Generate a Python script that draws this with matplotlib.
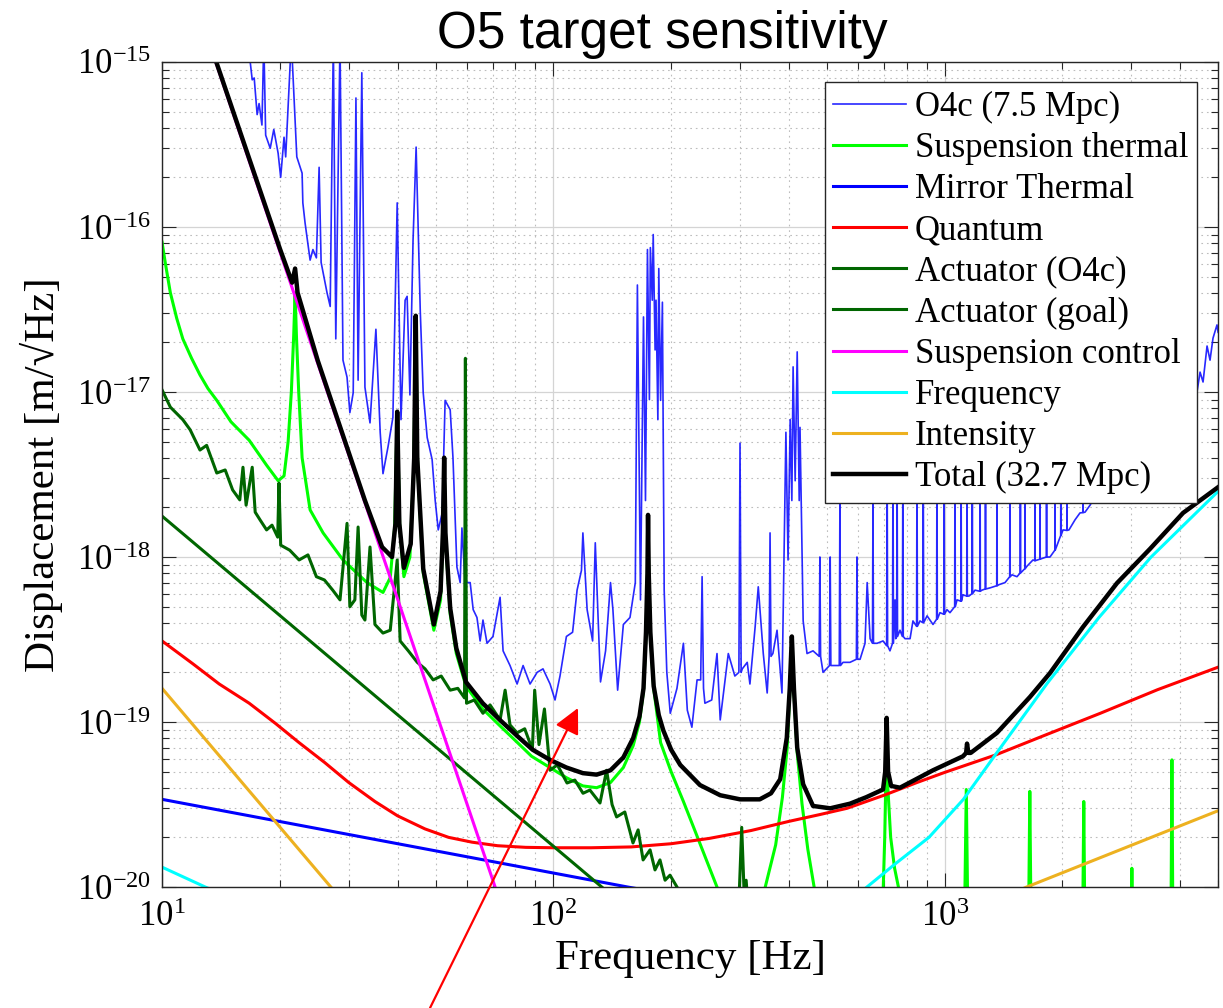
import numpy as np
import matplotlib
matplotlib.use("Agg")
import matplotlib.pyplot as plt
from matplotlib.ticker import LogLocator, LogFormatterMathtext, NullFormatter

plt.rcParams['font.family'] = ['Liberation Serif', 'DejaVu Serif']
plt.rcParams['mathtext.fontset'] = 'custom'
plt.rcParams['mathtext.rm'] = 'Liberation Serif'
plt.rcParams['mathtext.default'] = 'regular'

# (frequency [Hz], displacement [m/rtHz])
o4c = [(16.5, 1.56e-15), (16.8, 1.0e-15), (17.0, 7.8e-16), (17.2, 8.0e-16), (17.5, 4.8e-16),
       (17.7, 5.6e-16), (18.0, 4.15e-16), (18.2, 1.36e-15), (18.4, 3.6e-16), (18.9, 3.0e-16),
       (19.3, 3.9e-16), (19.8, 2.8e-16), (20.1, 2.0e-16), (20.5, 3.5e-16), (20.7, 2.66e-16),
       (21.4, 1.36e-15), (22.1, 2.66e-16), (22.8, 2.12e-16), (22.9, 1.4e-16), (23.2, 1.06e-16),
       (23.9, 6.3e-17), (24.3, 7.3e-17), (24.8, 6.5e-17), (25.2, 2.3e-16), (25.5, 6.1e-17),
       (25.8, 5.3e-17), (26.4, 4.0e-17), (26.9, 3.3e-17), (27.4, 1.36e-15), (27.8, 2.1e-17),
       (28.5, 1.36e-15), (29.0, 1.56e-17), (29.7, 1.23e-17), (30.2, 7.5e-18), (30.8, 9.9e-18),
       (31.3, 6.05e-16), (31.7, 1.18e-17), (32.4, 8.6e-16), (33.0, 1.07e-17), (34.0, 6.5e-18),
       (35.2, 2.4e-17), (36.1, 5.7e-18), (36.7, 3.2e-18), (37.8, 4.65e-18), (38.9, 7.0e-18),
       (39.9, 1.4e-16), (40.8, 6.8e-18), (41.8, 3.6e-17), (42.3, 3.8e-17), (43.0, 9.6e-18),
       (43.8, 8.3e-17), (44.6, 3.05e-16), (45.7, 3.1e-17), (46.5, 9.9e-18), (47.6, 5.3e-18),
       (49.0, 3.9e-18), (49.9, 2.2e-18), (50.8, 1.46e-18), (52.0, 1.85e-18), (52.9, 8.9e-18),
       (54.5, 7.8e-18), (55.4, 4.0e-18), (56.7, 8.7e-19), (57.8, 7.0e-19), (58.4, 1.5e-18),
       (59.5, 7.0e-19), (61.3, 7.0e-19), (62.4, 4.8e-19), (63.8, 4.3e-19), (65.0, 3.1e-19),
       (66.1, 4.15e-19), (67.7, 3.0e-19), (70.1, 3.3e-19), (73.1, 5.7e-19), (74.4, 2.7e-19),
       (77.5, 2.2e-19), (80.8, 1.7e-19), (83.7, 2.2e-19), (87.2, 1.7e-19), (90.9, 2.0e-19),
       (94.1, 2.1e-19), (98.1, 1.7e-19), (101, 1.36e-19), (104, 1.9e-19), (108, 3.3e-19),
       (112, 3.5e-19), (115, 6.3e-19), (118, 8.3e-19), (119, 1.4e-18), (122, 4.8e-19),
       (126, 3.1e-19), (128, 1.22e-18), (132, 1.75e-19), (136, 2.7e-19), (140, 7.0e-19),
       (142, 4.8e-19), (146, 1.56e-19), (151, 3.9e-19), (157, 4.3e-19), (162, 7.0e-19),
       (164, 4.45e-17), (167, 5.5e-19), (170, 2.85e-17), (172, 2.2e-18), (174, 7.3e-17),
       (176, 9.0e-18), (177, 7.5e-17), (179, 3.6e-17), (180, 9.0e-17), (182, 1.8e-17),
       (183, 3.6e-17), (185, 6.8e-18), (186, 5.6e-17), (188, 8.9e-18), (190, 3.5e-17),
       (192, 6.3e-19), (195, 2.0e-19), (199, 1.13e-19), (207, 1.6e-19), (215, 3.0e-19),
       (220, 1.18e-19), (226, 9.3e-20), (233, 1.8e-19), (238, 1.8e-19), (240, 7.6e-19),
       (242, 1.6e-19), (244, 1.3e-19), (254, 1.36e-19), (262, 2.6e-19), (267, 1.03e-19),
       (280, 2.6e-19), (291, 1.9e-19), (298, 2.0e-19), (300, 4.9e-18), (302, 2.0e-19),
       (304, 2.1e-19), (313, 2.3e-19), (318, 1.7e-19), (328, 3.8e-19), (334, 6.6e-19),
       (344, 2.6e-19), (352, 1.5e-19), (356, 2.5e-19), (358, 1.4e-18), (360, 2.5e-19),
       (364, 2.6e-19), (373, 3.6e-19), (384, 1.5e-19), (393, 5.7e-18), (398, 9.6e-19),
       (403, 6.8e-18), (407, 2.2e-18), (410, 1.42e-17), (415, 2.9e-18), (420, 1.75e-17),
       (425, 2.2e-18), (427, 6.1e-18), (435, 4.1e-19), (445, 2.6e-19), (461, 2.7e-19),
       (478, 2.5e-19), (480, 1.0e-18), (482, 2.5e-19), (489, 2.0e-19), (508, 2.2e-19),
       (510, 1.0e-18), (512, 2.2e-19), (519, 2.2e-19), (538, 2.2e-19), (540, 2.1e-18),
       (542, 2.2e-19), (550, 2.3e-19), (573, 2.3e-19), (595, 2.4e-19), (597, 1.0e-18),
       (599, 2.4e-19), (608, 2.4e-19), (626, 3.0e-19), (634, 7.0e-19), (645, 3.2e-19),
       (654, 3.0e-19), (656, 2.1e-18), (658, 3.0e-19), (672, 3.0e-19), (696, 3.1e-19),
       (711, 2.9e-19), (713, 4.5e-18), (715, 2.9e-19), (725, 2.7e-19), (736, 3.0e-19),
       (738, 4.5e-18), (740, 3.0e-19), (747, 5.5e-19), (750, 3.2e-19), (754, 3.3e-19),
       (756, 4.0e-18), (758, 3.3e-19), (769, 3.6e-19), (780, 3.3e-19), (782, 3.0e-18),
       (784, 3.3e-19), (792, 3.2e-19), (816, 3.2e-19), (830, 4.1e-19), (848, 3.8e-19),
       (850, 4.5e-18), (852, 3.8e-19), (865, 4.1e-19), (880, 4.0e-19), (882, 3.5e-18),
       (884, 4.0e-19), (902, 4.4e-19), (934, 3.9e-19), (954, 4.2e-19), (956, 4.5e-18),
       (958, 4.2e-19), (973, 4.6e-19), (995, 4.5e-19), (997, 3.0e-18), (999, 4.5e-19),
       (1014, 4.8e-19), (1032, 4.6e-19), (1061, 5.0e-19), (1063, 4.5e-18), (1065, 5.0e-19),
       (1076, 5.5e-19), (1100, 5.4e-19), (1102, 3.0e-18), (1104, 5.4e-19), (1114, 5.9e-19),
       (1139, 5.8e-19), (1141, 4.5e-18), (1143, 5.8e-19), (1154, 5.8e-19), (1175, 6.0e-19),
       (1177, 3.2e-18), (1179, 6.0e-19), (1196, 6.3e-19), (1230, 6.2e-19), (1232, 4.5e-18),
       (1234, 6.2e-19), (1246, 6.3e-19), (1270, 6.4e-19), (1272, 3.0e-18), (1274, 6.4e-19),
       (1306, 6.5e-19), (1359, 6.7e-19), (1361, 4.5e-18), (1363, 6.7e-19), (1377, 6.8e-19),
       (1427, 7.0e-19), (1467, 7.6e-19), (1469, 4.5e-18), (1471, 7.6e-19), (1487, 7.8e-19),
       (1531, 7.6e-19), (1560, 8.0e-19), (1562, 3.5e-18), (1564, 8.0e-19), (1603, 8.5e-19),
       (1605, 4.5e-18), (1607, 8.5e-19), (1624, 8.8e-19), (1682, 9.6e-19), (1700, 9.5e-19),
       (1702, 3.0e-18), (1704, 9.5e-19), (1751, 9.7e-19), (1753, 4.5e-18), (1755, 9.7e-19),
       (1774, 9.8e-19), (1820, 1.0e-18), (1822, 3.5e-18), (1824, 1.0e-18), (1859, 1.0e-18),
       (1913, 1.1e-18), (1915, 4.5e-18), (1917, 1.1e-18), (1938, 1.18e-18), (1980, 1.35e-18),
       (1982, 4.0e-18), (1984, 1.35e-18), (2007, 1.46e-18), (2053, 1.45e-18), (2055, 4.5e-18),
       (2057, 1.45e-18), (2079, 1.46e-18), (2154, 1.68e-18), (2218, 1.85e-18), (2256, 1.86e-18),
       (2258, 4.5e-18), (2260, 1.86e-18), (2285, 1.87e-18), (2353, 2.06e-18), (2647, 3.3e-18),
       (3349, 5.1e-18), (4416, 1.0e-17), (4496, 1.32e-17), (4576, 1.15e-17), (4685, 1.9e-17),
       (4768, 1.56e-17), (4852, 2.12e-17), (4967, 2.55e-17), (5000, 2.3e-17)]

sus_thermal = [(10.0, 8.1e-17), (10.2, 6.0e-17), (10.5, 4.0e-17), (10.9, 2.8e-17), (11.3, 2.1e-17),
               (11.9, 1.6e-17), (12.5, 1.27e-17), (13.1, 1.05e-17), (13.8, 8.9e-18),
               (15.0, 6.6e-18), (16.7, 5.1e-18), (18.5, 3.6e-18), (19.8, 2.9e-18), (20.5, 3.1e-18),
               (21.0, 5.0e-18), (21.4, 1.0e-17), (21.7, 2.2e-17), (21.88, 4.0e-17), (22.05, 2.2e-17),
               (22.35, 1.0e-17), (22.8, 4.0e-18), (23.9, 1.93e-18), (25.8, 1.4e-18), (29.0, 9.6e-19),
               (33.4, 7.0e-19), (36.7, 6.1e-19), (38.3, 7.5e-19), (39.3, 1.5e-18), (39.9, 7.3e-18),
               (40.5, 1.5e-18), (41.5, 7.6e-19), (43.0, 1.0e-18), (44.0, 3.5e-18), (44.5, 2.8e-17),
               (45.0, 3.5e-18), (46.5, 8.0e-19), (49.5, 3.6e-19), (51.5, 5.5e-19), (52.2, 1.3e-18),
               (52.6, 3.9e-18), (53.0, 1.3e-18), (54.5, 4.5e-19), (56.5, 2.6e-19), (59.8, 1.65e-19),
               (66, 1.2e-19), (73, 9.5e-20), (81, 7.5e-20), (88, 6.2e-20), (98, 5.3e-20),
               (108, 4.6e-20), (119, 4.1e-20), (129, 4.0e-20), (140, 4.3e-20), (151, 5.3e-20),
               (160, 7.2e-20), (166, 1.0e-19), (170, 1.55e-19), (172.5, 3.4e-19), (174, 7.8e-19),
               (174.6, 1.75e-18), (175.3, 7.8e-19), (177, 3.4e-19), (180.5, 1.6e-19), (188, 7.5e-20),
               (200, 5.0e-20), (215, 3.3e-20), (230, 2.2e-20), (245, 1.5e-20), (262, 1.0e-20),
               (280, 7e-21), (330, 7e-21), (348, 1.0e-20), (370, 1.8e-20), (385, 3.5e-20),
               (396, 7e-20), (402, 1.5e-19), (407, 3.2e-19), (412, 1.5e-19), (420, 6.5e-20),
               (432, 3.2e-20), (447, 1.7e-20), (464, 1.0e-20), (490, 6e-21), (680, 6e-21),
               (697, 1.0e-20), (703, 2.0e-20), (707, 4.0e-20), (711, 1.0e-19), (716, 4.0e-20),
               (728, 2.0e-20), (745, 1.3e-20), (762, 1.0e-20), (780, 7e-21), (1125, 7e-21),
               (1136, 3.9e-20), (1146, 7e-21), (1640, 7e-21), (1651, 3.8e-20), (1662, 7e-21),
               (2255, 7e-21), (2268, 3.3e-20), (2281, 7e-21), (2995, 7e-21), (3010, 1.3e-20),
               (3025, 7e-21), (3790, 7e-21), (3810, 5.9e-20), (3830, 7e-21), (5000, 7e-21)]

mirror_thermal = [(10, 3.4e-20), (155, 1.0e-20), (200, 9.0e-21)]

quantum = [(10, 3.1e-19), (12, 2.25e-19), (14, 1.7e-19), (16.7, 1.3e-19), (19.5, 9.8e-20),
           (22.4, 7.5e-20), (26, 5.7e-20), (30, 4.3e-20), (35, 3.3e-20), (40, 2.7e-20),
           (47, 2.25e-20), (54, 2.0e-20), (62, 1.87e-20), (72, 1.78e-20), (85, 1.74e-20),
           (100, 1.73e-20), (125, 1.73e-20), (158, 1.75e-20), (200, 1.83e-20), (250, 1.97e-20),
           (320, 2.2e-20), (400, 2.5e-20), (480, 2.75e-20), (563, 3.0e-20), (700, 3.6e-20),
           (850, 4.3e-20), (1000, 4.95e-20), (1346, 6.3e-20), (1800, 8.3e-20), (2500, 1.13e-19),
           (3500, 1.57e-19), (5000, 2.15e-19)]

actuator_o4c = [(10.0, 1.03e-17), (10.5, 8.1e-18), (11.3, 6.8e-18), (11.8, 5.9e-18), (12.5, 4.45e-18),
                (13.0, 4.75e-18), (13.8, 3.23e-18), (14.5, 3.37e-18), (15.15, 2.55e-18), (15.8, 2.22e-18),
                (16.1, 3.5e-18), (16.4, 2.06e-18), (17.0, 3.5e-18), (17.3, 1.87e-18), (17.8, 1.68e-18),
                (18.5, 1.46e-18), (19.1, 1.56e-18), (19.75, 1.32e-18), (19.9, 2.81e-18), (20.1, 1.18e-18),
                (21.2, 1.10e-18), (22.4, 9.6e-19), (23.6, 1.03e-18), (24.8, 7.6e-19), (26.0, 7.26e-19),
                (27.3, 6.3e-19), (28.5, 5.5e-19), (29.7, 1.6e-18), (30.2, 5.0e-19), (31.1, 5.5e-19),
                (31.7, 1.52e-18), (32.4, 4.45e-19), (33.0, 4.15e-19), (34.0, 1.15e-18), (35.0, 3.9e-19),
                (36.7, 3.46e-19), (38.3, 3.6e-19), (39.9, 9.6e-19), (40.6, 3.1e-19), (42.6, 2.7e-19),
                (44.9, 2.3e-19), (47.0, 2.1e-19), (49.3, 1.8e-19), (51.7, 1.9e-19), (54.5, 1.56e-19),
                (57.0, 1.6e-19), (59.3, 1.4e-19), (59.6, 1.6e-17), (60.0, 1.3e-19), (62.8, 1.36e-19),
                (66.1, 1.13e-19), (68.9, 1.27e-19), (73.1, 1.03e-19), (75.3, 1.56e-19), (77.5, 9.6e-20),
                (80.8, 8.6e-20), (84.5, 9.1e-20), (88.4, 6.8e-20), (89.6, 1.56e-19), (91.9, 7.3e-20),
                (94.9, 1.2e-19), (98.1, 5.1e-20), (102.4, 5.5e-20), (108.4, 4.27e-20), (113.5, 4.45e-20),
                (119.1, 3.7e-20), (124.0, 3.87e-20), (131.6, 3.23e-20), (136.8, 5.1e-20), (141.3, 3.16e-20),
                (145.1, 2.66e-20), (152.3, 2.85e-20), (159.8, 1.85e-20), (164.7, 2.22e-20), (169.6, 1.46e-20),
                (176.7, 1.68e-20), (181.9, 1.27e-20), (187.3, 1.46e-20), (193.0, 1.10e-20), (198.7, 1.18e-20),
                (210.8, 9.3e-21), (220, 8.9e-21), (298, 8e-21), (303, 2.3e-20), (308, 8e-21),
                (311, 1.1e-20), (314, 8e-21), (330, 7e-21)]

actuator_goal = [(10, 1.77e-18), (133, 1.0e-20), (200, 4.4e-21)]

sus_control = [(12, 2.5e-15), (13.8, 9.6e-16), (16, 3.4e-16), (20, 7.1e-17), (25, 1.49e-17),
               (30, 4.17e-18), (36.5, 1.05e-18), (40, 5.56e-19), (47.3, 1.72e-19), (60, 3.25e-20),
               (71, 1.0e-20), (80, 4.4e-21)]

frequency = [(10, 1.32e-20), (12.9, 1.0e-20), (14, 9.2e-21), (600, 9.0e-21), (633, 1.0e-20),
             (753, 1.4e-20), (912, 2.0e-20), (1117, 3.4e-20), (1346, 6.3e-20), (1830, 1.72e-19),
             (2480, 4.3e-19), (3370, 1.0e-18), (5000, 2.5e-18)]

intensity = [(10, 1.6e-19), (27, 1.0e-20), (35, 4.9e-21), (1400, 8.6e-21), (1620, 1.0e-20),
             (5000, 2.9e-20)]

total = [(12, 2.6e-15), (13.8, 9.8e-16), (16, 3.5e-16), (20, 7.4e-17), (21.5, 4.6e-17),
         (21.88, 5.6e-17), (22.2, 4.0e-17), (25, 1.55e-17), (30, 4.3e-18), (33, 2.2e-18),
         (36.5, 1.15e-18), (38.7, 1.0e-18), (39.5, 1.6e-18), (39.9, 7.6e-18), (40.4, 1.6e-18),
         (41.5, 8.6e-19), (43.2, 1.2e-18), (44.1, 4.0e-18), (44.5, 2.9e-17), (44.9, 4.0e-18),
         (46.5, 8.5e-19), (49.5, 3.9e-19), (51.5, 6.2e-19), (52.2, 1.4e-18), (52.6, 4.0e-18),
         (53.0, 1.4e-18), (54.5, 4.9e-19), (56.5, 2.8e-19), (59.8, 1.75e-19), (66, 1.3e-19),
         (73, 1.03e-19), (81, 8.2e-20), (88.5, 6.8e-20), (98, 5.9e-20), (108, 5.3e-20),
         (119, 4.9e-20), (129, 4.8e-20), (140, 5.1e-20), (151, 6.1e-20), (160, 8.0e-20),
         (166, 1.08e-19), (170, 1.6e-19), (172.5, 3.5e-19), (174, 8.0e-19), (174.6, 1.8e-18),
         (175.3, 8.0e-19), (177, 3.5e-19), (180.5, 1.65e-19), (186, 1.1e-19), (191, 8.9e-20),
         (200, 6.8e-20), (211, 5.5e-20), (237, 4.15e-20), (267, 3.6e-20), (300, 3.4e-20),
         (337, 3.4e-20), (360, 3.7e-20), (380, 4.5e-20), (395, 8.0e-20), (402, 1.6e-19),
         (407, 3.3e-19), (412, 1.6e-19), (420, 7.0e-20), (435, 4.2e-20), (461, 3.1e-20),
         (510, 3.0e-20), (573, 3.2e-20), (630, 3.5e-20), (696, 3.9e-20), (705, 5.0e-20),
         (711, 1.06e-19), (717, 5.0e-20), (730, 4.1e-20), (769, 4.0e-20), (934, 5.1e-20),
         (1114, 6.2e-20), (1135, 6.5e-20), (1141, 7.4e-20), (1150, 6.5e-20), (1166, 6.5e-20),
         (1361, 8.6e-20), (1653, 1.42e-19), (1859, 1.98e-19), (2258, 3.77e-19), (2758, 6.95e-19),
         (3349, 1.12e-18), (4068, 1.85e-18), (5000, 2.65e-18)]

x_ticks = [10, 100, 1000]
y_ticks = [1e-20, 1e-19, 1e-18, 1e-17, 1e-16, 1e-15]


def xy(points):
    a = np.array(points, dtype=float)
    return a[:, 0], a[:, 1]


fig = plt.figure(figsize=(12.23, 10.08), dpi=100)
ax = fig.add_axes([0.1325, 0.1200, 0.8635, 0.8185])

ax.loglog(*xy(o4c), color='#1010ff', lw=1.2, alpha=0.9, label='O4c (7.5 Mpc)')
ax.loglog(*xy(sus_thermal), color='#00ff00', lw=2.2, label='Suspension thermal')
ax.loglog(*xy(mirror_thermal), color='#0000ff', lw=2.2, label='Mirror Thermal')
ax.loglog(*xy(quantum), color='#ff0000', lw=2.2, label='Quantum')
ax.loglog(*xy(actuator_o4c), color='#006600', lw=2.2, label='Actuator (O4c)')
ax.loglog(*xy(actuator_goal), color='#006600', lw=2.2, label='Actuator (goal)')
ax.loglog(*xy(sus_control), color='#ff00ff', lw=2.2, label='Suspension control')
ax.loglog(*xy(frequency), color='#00ffff', lw=2.2, label='Frequency')
ax.loglog(*xy(intensity), color='#edb120', lw=2.2, label='Intensity')
ax.loglog(*xy(total), color='black', lw=3.2, label='Total (32.7 Mpc)')

ax.set_xlim(10, 5000)
ax.set_ylim(1e-20, 1e-15)

ax.set_xticks(x_ticks)
ax.set_yticks(y_ticks)
ax.xaxis.set_minor_locator(LogLocator(base=10, subs=np.arange(2, 10), numticks=20))
ax.yaxis.set_minor_locator(LogLocator(base=10, subs=np.arange(2, 10), numticks=20))
ax.xaxis.set_major_formatter(LogFormatterMathtext())
ax.yaxis.set_major_formatter(LogFormatterMathtext())
ax.xaxis.set_minor_formatter(NullFormatter())
ax.yaxis.set_minor_formatter(NullFormatter())

ax.grid(True, which='major', color='#d4d4d4', lw=0.9, ls='-')
ax.grid(True, which='minor', color='#bdbdbd', lw=0.8, ls=(0, (1.5, 3.5)))
ax.set_axisbelow(True)
ax.tick_params(which='both', direction='in', top=True, right=True, color='#262626', width=0.8)
ax.tick_params(which='major', length=10, labelsize=25)
ax.tick_params(axis='x', which='major', pad=10)
ax.tick_params(axis='y', which='major', pad=8)
ax.tick_params(which='minor', length=5)
for s in ax.spines.values():
    s.set_color('#262626')
    s.set_linewidth(1.0)

ax.set_xlabel('Frequency [Hz]', fontsize=31, labelpad=4)
ax.set_ylabel('Displacement [m/\u221aHz]', fontsize=31, labelpad=10)

leg = ax.legend(loc='upper right', bbox_to_anchor=(0.980, 0.9758), borderaxespad=0,
                fontsize=25, handlelength=2.1, handletextpad=0.25, labelspacing=0.235,
                borderpad=0.25, fancybox=False, framealpha=1, edgecolor='#262626')
leg.get_frame().set_linewidth(1.0)

fig.text(0.542, 0.952, 'O5 target sensitivity', family='Liberation Sans', fontsize=37,
         ha='center', va='baseline')

ax.annotate('', xy=(0.4726, 0.2976), xytext=(0.3516, 0.0),
            xycoords='figure fraction', textcoords='figure fraction',
            arrowprops=dict(arrowstyle='-|>,head_length=0.7,head_width=0.35', color='red',
                            lw=1.6, mutation_scale=22, shrinkA=0, shrinkB=0),
            annotation_clip=False, zorder=20)

fig.savefig('out.png', dpi=100)
